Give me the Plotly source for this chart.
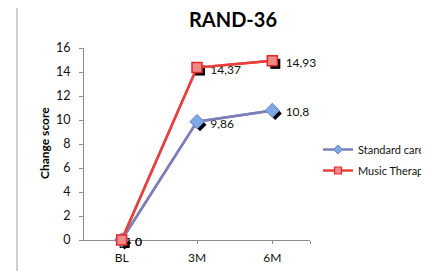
import plotly.graph_objects as go

categories = ["BL", "3M", "6M"]
standard_care = [0, 9.86, 10.8]
music_therapy = [0, 14.37, 14.93]
standard_labels = ["0", "9,86", "10,8"]
music_labels = ["0", "14,37", "14,93"]
y_ticks = [0, 2, 4, 6, 8, 10, 12, 14, 16]

FONT = "Lato, Carlito, 'Open Sans', sans-serif"
x_idx = list(range(len(categories)))

OFF = 8                      # page body margin of the html page
S = 3                        # shadow offset, px
W, H = 429 - OFF, 271 - OFF
# main plot area (reference px): x 84..310, y 48..240
L, T = 84 - OFF, 48 - OFF
R = W - (310 - OFF + S)
B = H - (240 - OFF + S)
PW = W - L - R
PH = H - T - B


def fx(xref):
    return (xref - OFF - L) / PW


def fy(yref):
    return (H - B - (yref - OFF)) / PH


SC_COL, MT_COL = "#7d7fb8", "#e8403c"

fig = go.Figure()

# base lines (also provide legend entries with small markers)
fig.add_trace(go.Scatter(x=x_idx, y=standard_care, mode="lines+markers",
                         name="Standard care",
                         line=dict(color=SC_COL, width=2.5),
                         marker=dict(symbol="diamond", size=7, color="#7fa8e8",
                                     line=dict(color="#6f80c0", width=1)),
                         hoverinfo="skip", cliponaxis=False,
                         xaxis="x", yaxis="y", legendgroup="a"))
fig.add_trace(go.Scatter(x=x_idx, y=music_therapy, mode="lines+markers",
                         name="Music Therapy",
                         line=dict(color=MT_COL, width=2.5),
                         marker=dict(symbol="square", size=7, color="#f08a88",
                                     line=dict(color="#e02828", width=1.2)),
                         hoverinfo="skip", cliponaxis=False,
                         xaxis="x", yaxis="y", legendgroup="b"))

# shadows + data labels (offset layer)
fig.add_trace(go.Scatter(x=x_idx, y=standard_care, mode="markers+text",
                         text=[" " + t for t in standard_labels],
                         textposition="middle right",
                         textfont=dict(family=FONT, size=12, color="#111"),
                         marker=dict(symbol="diamond", size=10, color="black"),
                         showlegend=False, cliponaxis=False, hoverinfo="skip",
                         xaxis="x2", yaxis="y2"))
fig.add_trace(go.Scatter(x=x_idx, y=music_therapy, mode="markers+text",
                         text=[" " + t for t in music_labels],
                         textposition="middle right",
                         textfont=dict(family=FONT, size=12, color="#111"),
                         marker=dict(symbol="square", size=10, color="black"),
                         showlegend=False, cliponaxis=False, hoverinfo="skip",
                         xaxis="x2", yaxis="y2"))

# main series on top
fig.add_trace(go.Scatter(x=x_idx, y=standard_care, mode="lines+markers",
                         name="Standard care", showlegend=False,
                         line=dict(color=SC_COL, width=2.5),
                         marker=dict(symbol="diamond", size=11, color="#7fa8e8",
                                     line=dict(color="#6f80c0", width=1)),
                         cliponaxis=False, xaxis="x3", yaxis="y3"))
fig.add_trace(go.Scatter(x=x_idx, y=music_therapy, mode="lines+markers",
                         name="Music Therapy", showlegend=False,
                         line=dict(color=MT_COL, width=2.5),
                         marker=dict(symbol="square", size=10, color="#f08a88",
                                     line=dict(color="#e02828", width=1.5)),
                         cliponaxis=False, xaxis="x3", yaxis="y3"))

xr = [-0.5, 2.5]
yr = [0, 16]
main_xd = [0, (PW - S) / PW]
main_yd = [S / PH, 1]
shadow_xd = [S / PW, 1]
shadow_yd = [0, (PH - S) / PH]

fig.update_layout(
    width=W, height=H,
    margin=dict(l=L, r=R, t=T, b=B, autoexpand=False),
    paper_bgcolor="white", plot_bgcolor="rgba(0,0,0,0)",
    font=dict(family=FONT, size=12, color="#111"),
    title=dict(text="<b>RAND-36</b>", x=fx(233), xref="paper",
               xanchor="center", y=1 - (20 - OFF) / H, yanchor="middle",
               font=dict(family=FONT, size=20, color="#000")),
    xaxis=dict(domain=main_xd, anchor="y", range=xr,
               tickvals=[0, 1, 2, 2.5], ticktext=categories + [""],
               showgrid=False, zeroline=False, showline=True,
               linecolor="#8c8c8c", linewidth=1, ticks="outside", ticklen=3,
               tickcolor="#8c8c8c", ticklabelstandoff=4,
               tickfont=dict(size=12, color="#111")),
    yaxis=dict(domain=main_yd, anchor="x", range=yr, tickvals=y_ticks,
               showgrid=False, zeroline=False,
               showline=True, linecolor="#8c8c8c", linewidth=1,
               ticks="outside", ticklen=4, tickcolor="#8c8c8c",
               ticklabelstandoff=6,
               tickfont=dict(size=12.5, color="#111")),
    xaxis2=dict(domain=shadow_xd, anchor="y2", range=xr, visible=False),
    yaxis2=dict(domain=shadow_yd, anchor="x2", range=yr, visible=False),
    xaxis3=dict(domain=main_xd, anchor="y3", range=xr, visible=False),
    yaxis3=dict(domain=main_yd, anchor="x3", range=yr, visible=False),
    legend=dict(x=fx(318), xanchor="left", y=fy(135),
                yanchor="top", bgcolor="rgba(0,0,0,0)",
                font=dict(size=11, color="#111"), tracegroupgap=2),
    showlegend=True,
    annotations=[dict(text="<b>Change score</b>", textangle=-90,
                      xref="paper", yref="paper",
                      x=fx(44), y=fy(143),
                      xanchor="center", yanchor="middle", showarrow=False,
                      font=dict(size=12, color="#000"))],
    shapes=[dict(type="line", xref="paper", yref="paper",
                 x0=fx(17), x1=fx(17), y0=fy(280), y1=fy(0),
                 line=dict(color="#a0a0a0", width=1))],
)

fig.write_html("out.html")
